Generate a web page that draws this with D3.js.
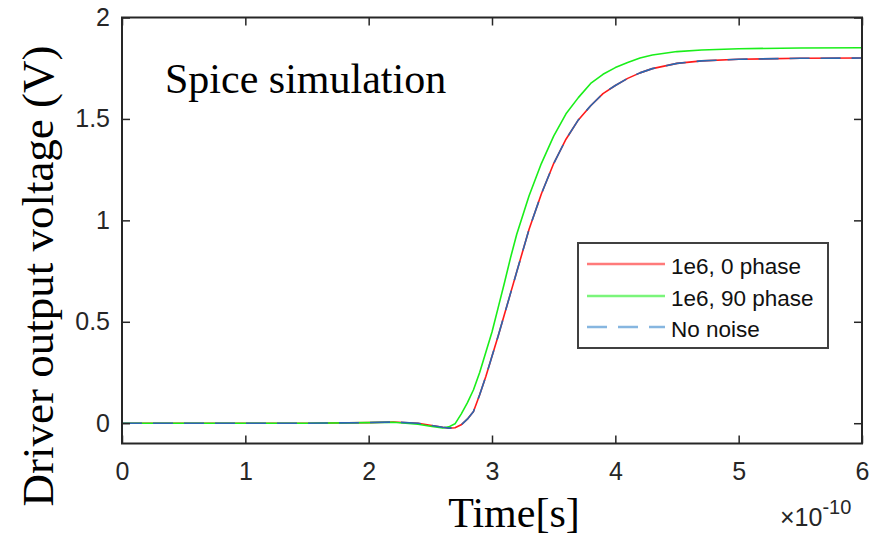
<!DOCTYPE html>
<html>
<head>
<meta charset="utf-8">
<script src="https://cdn.jsdelivr.net/npm/d3@7/dist/d3.min.js"></script>
<style>
  html, body { margin: 0; padding: 0; background: #fff; }
  svg { display: block; }
</style>
</head>
<body>
<script>
// Time in units of 1e-10 s
const timeVals = [0, 0.5, 1, 1.5, 2.0, 2.2, 2.4, 2.5, 2.6, 2.65, 2.7, 2.75, 2.8, 2.85, 2.9, 2.95, 3.0, 3.05, 3.1, 3.15, 3.2, 3.3, 3.4, 3.5, 3.6, 3.7, 3.8, 3.9, 4.0, 4.1, 4.2, 4.3, 4.5, 4.7, 5.0, 5.5, 6.0];
const phase0Vals = [0, 0, 0, 0, 0.003, 0.006, 0.0, -0.01, -0.02, -0.024, -0.022, -0.008, 0.02, 0.058, 0.14, 0.23, 0.33, 0.43, 0.535, 0.64, 0.745, 0.955, 1.13, 1.28, 1.40, 1.495, 1.565, 1.625, 1.665, 1.70, 1.727, 1.748, 1.774, 1.786, 1.794, 1.799, 1.80];
const phase90Vals = [0, 0, 0, 0, 0.003, 0.005, -0.005, -0.015, -0.024, -0.018, -0.003, 0.045, 0.10, 0.165, 0.25, 0.35, 0.45, 0.57, 0.69, 0.815, 0.93, 1.12, 1.28, 1.415, 1.525, 1.605, 1.675, 1.72, 1.753, 1.778, 1.80, 1.815, 1.832, 1.84, 1.846, 1.85, 1.851];
const noNoiseVals = [0, 0, 0, 0, 0.003, 0.006, 0.0, -0.01, -0.02, -0.024, -0.022, -0.008, 0.02, 0.058, 0.14, 0.23, 0.33, 0.43, 0.535, 0.64, 0.745, 0.955, 1.13, 1.28, 1.40, 1.495, 1.565, 1.625, 1.665, 1.70, 1.727, 1.748, 1.774, 1.786, 1.794, 1.799, 1.80];

const seriesNames = ["1e6, 0 phase", "1e6, 90 phase", "No noise"];
const xTicks = [0, 1, 2, 3, 4, 5, 6];
const yTicks = [0, 0.5, 1, 1.5, 2];
const yTickLabels = ["0", "0.5", "1", "1.5", "2"];

(function () {
const W = 875, H = 536;
const pLeft = 122, pRight = 862, pTop = 17.5, pBottom = 443.5;
const axisColor = "#262626";

const svg = d3.select("body").append("svg").attr("width", W).attr("height", H);
svg.append("rect").attr("width", W).attr("height", H).attr("fill", "#fff");

const x = d3.scaleLinear().domain([0, 6]).range([pLeft, pRight]);
const y = d3.scaleLinear().domain([-0.1, 2]).range([pBottom, pTop]);

// Lines
const series = [
  { name: seriesNames[0], vals: phase0Vals, color: "#ff1a1a", dash: null },
  { name: seriesNames[1], vals: phase90Vals, color: "#1aee1a", dash: null },
  { name: seriesNames[2], vals: noNoiseVals, color: "#2a68b0", dash: "20,11" }
];
const line = d3.line().x(d => x(d[0])).y(d => y(d[1]));
const gLines = svg.append("g");
series.forEach(s => {
  const pts = timeVals.map((t, i) => [t, s.vals[i]]);
  const p = gLines.append("path").datum(pts)
    .attr("d", line).attr("fill", "none")
    .attr("stroke", s.color).attr("stroke-width", 1.6)
    .attr("stroke-linejoin", "round");
  if (s.dash) p.attr("stroke-dasharray", s.dash);
});

// Axes
const tickFont = "Liberation Sans, Arial, sans-serif";
const xAxisB = d3.axisBottom(x).tickValues(xTicks).tickSizeInner(-8).tickSizeOuter(0).tickPadding(19).tickFormat(d3.format("d"));
const xAxisT = d3.axisTop(x).tickValues(xTicks).tickSizeInner(-8).tickSizeOuter(0).tickFormat("");
const yAxisL = d3.axisLeft(y).tickValues(yTicks).tickSizeInner(-8).tickSizeOuter(0).tickPadding(12).tickFormat((d, i) => yTickLabels[i]);
const yAxisR = d3.axisRight(y).tickValues(yTicks).tickSizeInner(-8).tickSizeOuter(0).tickFormat("");

function styleAxis(g) {
  g.select(".domain").remove();
  g.selectAll(".tick line").attr("stroke", axisColor).attr("stroke-width", 1.5);
  g.selectAll(".tick text").attr("fill", axisColor).style("font-family", tickFont).style("font-size", "25px");
}
svg.append("g").attr("transform", `translate(0,${pBottom})`).call(xAxisB).call(styleAxis);
svg.append("g").attr("transform", `translate(0,${pTop})`).call(xAxisT).call(styleAxis);
svg.append("g").attr("transform", `translate(${pLeft},0)`).call(yAxisL).call(styleAxis);
svg.append("g").attr("transform", `translate(${pRight},0)`).call(yAxisR).call(styleAxis);

// Box
svg.append("rect").attr("x", pLeft).attr("y", pTop).attr("width", pRight - pLeft).attr("height", pBottom - pTop)
  .attr("fill", "none").attr("stroke", axisColor).attr("stroke-width", 2);

// Exponent label
const ex = svg.append("text").attr("x", 780).attr("y", 526).attr("fill", axisColor)
  .style("font-family", tickFont).style("font-size", "25px");
ex.append("tspan").text("\u00d710");
ex.append("tspan").attr("dy", -12).style("font-size", "20px").text("-10");

// Axis titles
const serif = "Liberation Serif, Times New Roman, serif";
svg.append("text").attr("x", 514).attr("y", 527).attr("text-anchor", "middle")
  .style("font-family", serif).style("font-size", "42px").attr("fill", "#000").text("Time[s]");
svg.append("text").attr("transform", `translate(53,276) rotate(-90)`).attr("text-anchor", "middle")
  .style("font-family", serif).style("font-size", "45px").attr("fill", "#000").text("Driver output voltage (V)");

// Annotation
svg.append("text").attr("x", 165).attr("y", 93)
  .style("font-family", serif).style("font-size", "42px").attr("fill", "#000").text("Spice simulation");

// Legend
const legend = svg.append("g");
legend.append("rect").attr("x", 578).attr("y", 243).attr("width", 250).attr("height", 105)
  .attr("fill", "#fff").attr("stroke", "#404040").attr("stroke-width", 2);
const legendColors = ["#ff7a7a", "#7af57a", "#86b6e0"];
const rowY = [264, 296, 327];
series.forEach((s, i) => {
  const l = legend.append("line").attr("x1", 587).attr("x2", 665).attr("y1", rowY[i]).attr("y2", rowY[i])
    .attr("stroke", legendColors[i]).attr("stroke-width", 2.5);
  if (s.dash) l.attr("stroke-dasharray", "20,11");
  legend.append("text").attr("x", 671).attr("y", rowY[i] + 10).attr("fill", "#111")
    .style("font-family", tickFont).style("font-size", "22.5px").text(s.name);
});
})();
</script>
</body>
</html>
